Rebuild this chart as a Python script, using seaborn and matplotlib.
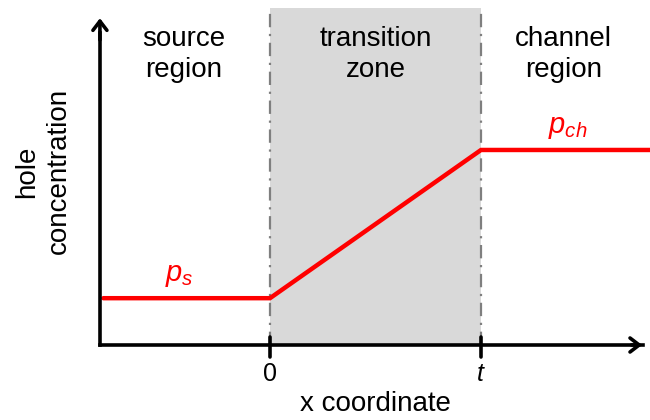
import numpy as np
import pandas as pd
import matplotlib
matplotlib.use("Agg")
import matplotlib.pyplot as plt
import seaborn as sns

# x in units of the transition length t (0 = start of transition zone)
xPos = [-0.79, 0.0, 1.0, 1.8]
# hole concentration, normalised to p_ch
holeConc = [0.24, 0.24, 1.0, 1.0]

zoneStart = 0.0
zoneEnd = 1.0
tickPos = [0.0, 1.0]
tickLabels = ["0", "$t$"]
regionNames = ["source\nregion", "transition\nzone", "channel\nregion"]
regionCentres = [-0.41, 0.50, 1.39]

sns.set_theme(style="white")
plt.rcParams["font.family"] = ["Liberation Sans", "DejaVu Sans"]
plt.rcParams["text.color"] = "black"
plt.rcParams["mathtext.fontset"] = "custom"
plt.rcParams["mathtext.it"] = "Liberation Sans:italic"
plt.rcParams["mathtext.rm"] = "Liberation Sans"

fig = plt.figure(figsize=(6.5, 4.2), dpi=100)
ax = fig.add_axes([0, 0, 1, 1])
ax.set_xlim(-1.2796, 1.801)
ax.set_ylim(-0.3846, 1.769)
ax.axis("off")

yTop = 1.73
ax.fill_between([zoneStart, zoneEnd], 0, yTop, color="#d9d9d9", lw=0, zorder=0)
for xv in [zoneStart, zoneEnd]:
    ax.plot([xv, xv], [0, yTop], color="#7f7f7f", lw=1.6, ls=(0, (6, 3, 1, 3)), zorder=1)

df = pd.DataFrame({"x": xPos, "p": holeConc})
sns.lineplot(data=df, x="x", y="p", color="red", lw=3.2, ax=ax, zorder=3,
             solid_joinstyle="miter")

# axes arrows
xLeft = -0.806
ax.plot([xLeft, 1.77], [0, 0], color="black", lw=2.6, zorder=4, solid_capstyle="projecting")
ax.annotate("", xy=(1.777, 0), xytext=(1.70, 0),
            arrowprops=dict(arrowstyle="->,head_length=0.55,head_width=0.42", color="black", lw=2.6), zorder=4)
ax.plot([xLeft, xLeft], [0, 1.6], color="black", lw=2.6, zorder=4, solid_capstyle="projecting")
ax.annotate("", xy=(xLeft, 1.69), xytext=(xLeft, 1.55),
            arrowprops=dict(arrowstyle="->,head_length=0.55,head_width=0.42", color="black", lw=2.6), zorder=4)

for xv, lab in zip(tickPos, tickLabels):
    ax.plot([xv, xv], [-0.06, 0.04], color="black", lw=2.6, zorder=4)
    ax.text(xv, -0.15, lab, ha="center", va="center", fontsize=18)

ax.text(0.50, -0.30, "x coordinate", ha="center", va="center", fontsize=20)
ax.text(-1.075, 0.89, "hole\nconcentration", ha="center", va="center",
        rotation=90, fontsize=20, linespacing=1.3)

for xc, name in zip(regionCentres, regionNames):
    ax.text(xc, 1.49, name, ha="center", va="center", fontsize=20, linespacing=1.25)

ax.text(-0.43, 0.36, "$p_s$", color="red", ha="center", va="center", fontsize=21)
ax.text(1.41, 1.12, "$p_{ch}$", color="red", ha="center", va="center", fontsize=21)

fig.savefig("out.png", dpi=100)
